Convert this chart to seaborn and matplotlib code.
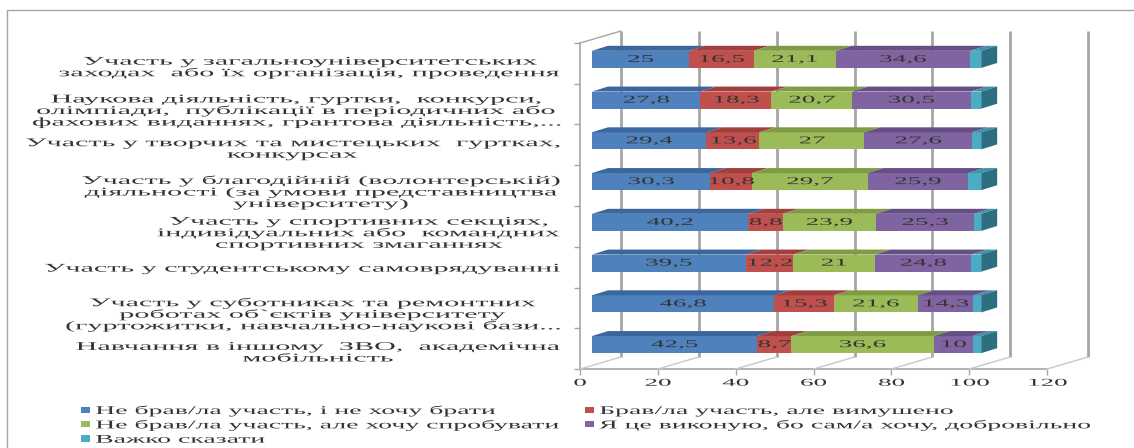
import numpy as np
import seaborn as sns
import matplotlib.pyplot as plt
import matplotlib.patheffects as pe
from matplotlib.patches import Patch, Polygon, Rectangle
from matplotlib.lines import Line2D
from matplotlib.transforms import Affine2D, ScaledTranslation, IdentityTransform

categories = [
    'Участь у загальноуніверситетських\nзаходах  або їх організація, проведення',
    'Наукова діяльність, гуртки,  конкурси,\nолімпіади,  публікації в періодичних або\nфахових виданнях, грантова діяльність,...',
    'Участь у творчих та мистецьких  гуртках,\nконкурсах',
    'Участь у благодійній (волонтерській)\nдіяльності (за умови представництва\nуніверситету)',
    'Участь у спортивних секціях,\nіндивідуальних або  командних\nспортивних змаганнях',
    'Участь у студентському самоврядуванні',
    'Участь у суботниках та ремонтних\nроботах об`єктів університету\n(гуртожитки, навчально-наукові бази...',
    'Навчання в іншому  ЗВО,  академічна\nмобільність',
]
series_names = [
    'Не брав/ла участь, і не хочу брати',
    'Брав/ла участь, але вимушено',
    'Не брав/ла участь, але хочу спробувати',
    'Я це виконую, бо сам/а хочу, добровільно',
    'Важко сказати',
]
ne_khochu = [25, 27.8, 29.4, 30.3, 40.2, 39.5, 46.8, 42.5]
vymusheno = [16.5, 18.3, 13.6, 10.8, 8.8, 12.2, 15.3, 8.7]
khochu_sprobuvaty = [21.1, 20.7, 27, 29.7, 23.9, 21, 21.6, 36.6]
dobrovilno = [34.6, 30.5, 27.6, 25.9, 25.3, 24.8, 14.3, 10]
vazhko = [2.8, 2.7, 2.4, 3.3, 1.8, 2.5, 2.0, 2.2]
x_ticks = [0, 20, 40, 60, 80, 100, 120]

colors = ['#4f81bd', '#c0504d', '#9bbb59', '#8064a2', '#4bacc6']
top_colors = ['#3b679e', '#a03f3c', '#7f9c45', '#664f85', '#3a93ab']
side_color = '#2d6f80'
grid_color = '#a6a6a6'
text_color = '#333333'


class Stretch(pe.AbstractPathEffect):
    # the source picture is stretched sideways, so widen glyphs around the text anchor
    def __init__(self, text, sx):
        super().__init__()
        self.text, self.sx = text, sx

    def draw_path(self, renderer, gc, tpath, affine, rgbFace=None):
        bb = self.text.get_window_extent(renderer)
        ha = self.text.get_horizontalalignment()
        x0 = bb.x0 if ha == 'left' else bb.x1 if ha == 'right' else (bb.x0 + bb.x1) / 2
        affine = affine + Affine2D().translate(-x0, 0).scale(self.sx, 1).translate(x0, 0)
        renderer.draw_path(gc, tpath, affine, rgbFace)


def stretch(texts, sx):
    for t in texts:
        t.set_path_effects([Stretch(t, sx)])


sns.set_theme(style='white')
plt.rcParams['font.family'] = ['Liberation Serif', 'DejaVu Serif']

W, H = 1134, 448
fig = plt.figure(figsize=(W / 100, H / 100), dpi=100)
ax = fig.add_axes([580 / W, 79 / H, 467 / W, 326 / H])
ax.set_facecolor('white')

px = fig.dpi_scale_trans
bar_trans = ax.transData + ScaledTranslation(0.12, 0.04, px)
wall_trans = ax.transData + ScaledTranslation(0.41, 0.12, px)

series = [ne_khochu, vymusheno, khochu_sprobuvaty, dobrovilno, vazhko]
left = np.zeros(len(categories))
containers = []
for vals, color in zip(series, colors):
    sns.barplot(x=vals, y=categories, orient='h', color=color, saturation=1,
                width=0.42, errorbar=None, linewidth=0, left=left.copy(),
                ax=ax, zorder=3)
    cont = ax.containers[-1]
    for bar in cont:
        bar.set_transform(bar_trans)
    containers.append(cont)
    left += np.array(vals)

ax.set_xlim(0, 120)
ax.set_ylim(len(categories) - 0.5, -0.5)
ax.grid(False)
ax.set_xlabel('')
ax.set_ylabel('')

# value labels (no label for the last, thin series)
for cont, vals in zip(containers[:4], series[:4]):
    labels = [f'{v:g}'.replace('.', ',') for v in vals]
    ax.bar_label(cont, labels=labels, label_type='center', xycoords=bar_trans,
                 fontsize=7.5, color=text_color)

# 3d look: top faces of every segment and the end cap of the stack
for k, cont in enumerate(containers):
    for bar in cont:
        (x0, y0), (x1, y1) = bar.get_bbox().get_points()
        c = bar_trans.transform([(x0, y0), (x1, y1)])
        lx, rx = c[:, 0].min(), c[:, 0].max()
        ty, by = c[:, 1].max(), c[:, 1].min()
        top = [(lx, ty), (rx, ty), (rx + 16, ty + 5), (lx + 16, ty + 5)]
        fig.add_artist(Polygon(top, closed=True, transform=IdentityTransform(),
                               fc=top_colors[k], ec='none', zorder=2))
        if k == len(containers) - 1:
            side = [(rx, by), (rx, ty), (rx + 16, ty + 5), (rx + 16, by + 5)]
            fig.add_artist(Polygon(side, closed=True, transform=IdentityTransform(),
                                   fc=side_color, ec='none', zorder=2))

# back wall gridlines and floor diagonals
ax.vlines(x_ticks, -0.5, len(categories) - 0.5, colors=grid_color, lw=2,
          transform=wall_trans, clip_on=False, zorder=0.5)
for t in x_ticks:
    p = ax.transData.transform((t, len(categories) - 0.5))
    fig.add_artist(Line2D([p[0], p[0] + 41], [p[1], p[1] + 12], transform=IdentityTransform(),
                          color='#c8c8c8', lw=1, zorder=1))
p = ax.transData.transform((0, -0.5))
fig.add_artist(Line2D([p[0], p[0] + 41], [p[1], p[1] + 12], transform=IdentityTransform(),
                      color=grid_color, lw=1, zorder=1))

for s in ['top', 'right']:
    ax.spines[s].set_visible(False)
for s in ['left', 'bottom']:
    ax.spines[s].set_color(grid_color)
    ax.spines[s].set_linewidth(1.2)

ax.set_xticks(x_ticks)
ax.set_yticks(range(len(categories)))
ax.set_yticklabels(categories, multialignment='center', linespacing=0.95,
                   fontsize=8.5, color=text_color)
ax.set_yticks(np.arange(len(categories) + 1) - 0.5, minor=True)
ax.tick_params(axis='y', which='major', length=0, pad=15)
ax.tick_params(axis='y', which='minor', left=True, length=4, width=1, color=grid_color)
ax.tick_params(axis='x', bottom=True, length=4, width=1, color=grid_color,
               labelsize=7.5, labelcolor=text_color, pad=3)

for lbl in ax.get_yticklabels():
    n = lbl.get_text().count('\n')
    lbl.set_transform(lbl.get_transform() + ScaledTranslation(0, -0.028 * n, px))

handles = [Patch(facecolor=c, edgecolor='none') for c in colors]
leg_kw = dict(loc='upper left', frameon=False, fontsize=8.5, labelcolor=text_color,
              handlelength=0.8, handleheight=0.45, handletextpad=0.4,
              labelspacing=0.2, borderpad=0, borderaxespad=0)
leg1 = fig.legend([handles[i] for i in (0, 2, 4)], [series_names[i] for i in (0, 2, 4)],
                  bbox_to_anchor=(81 / W, 1 - 405 / H), **leg_kw)
leg2 = fig.legend([handles[i] for i in (1, 3)], [series_names[i] for i in (1, 3)],
                  bbox_to_anchor=(585 / W, 1 - 405 / H), **leg_kw)

fig.add_artist(Rectangle((7 / W, -0.1), 1.2, 1.1 - 10 / H, transform=fig.transFigure,
                         fill=False, ec=grid_color, lw=1))

stretch(ax.get_yticklabels(), 2.55)
stretch(ax.get_xticklabels(), 2.6)
stretch(ax.texts, 2.6)
stretch(leg1.get_texts() + leg2.get_texts(), 2.35)

fig.savefig('out.png', dpi=100)
